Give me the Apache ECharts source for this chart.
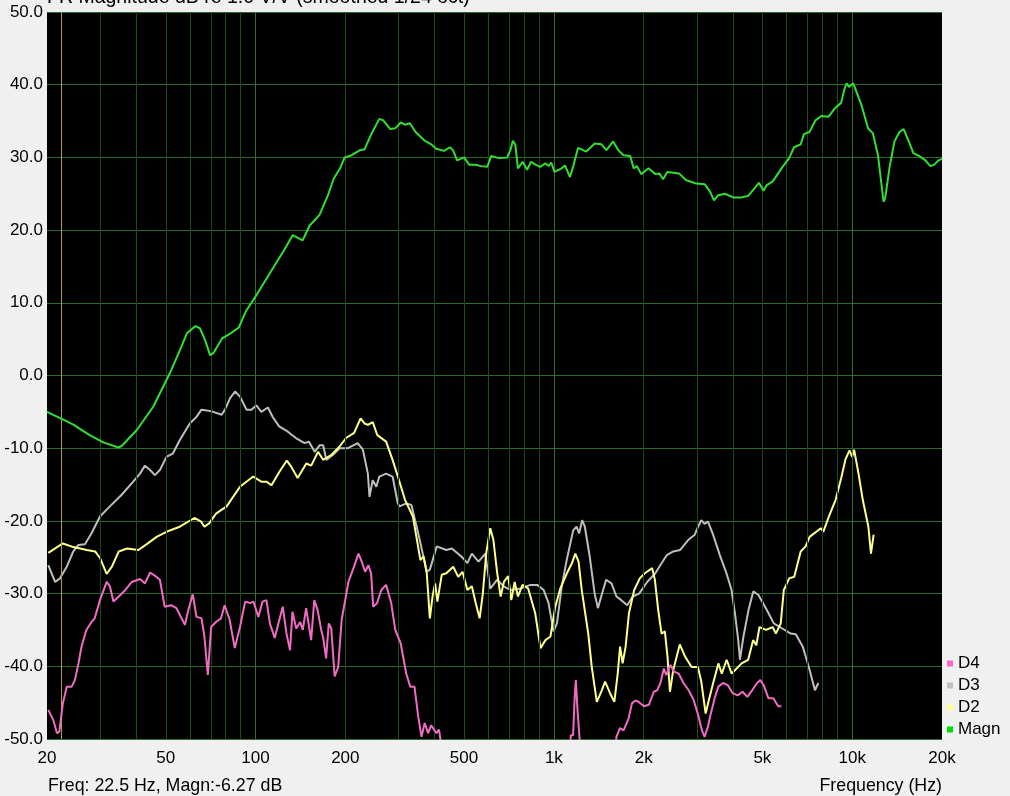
<!DOCTYPE html>
<html><head><meta charset="utf-8">
<script src="https://cdn.jsdelivr.net/npm/echarts@6/dist/echarts.min.js"></script>
<style>html,body{margin:0;padding:0;background:#f0f0f0;} #c{width:1010px;height:796px;}</style>
</head><body><div id="c"></div>
<script>
const magn = [[20,-5.0],[22.5,-6.0],[24.6,-6.8],[27.8,-8.2],[30.9,-9.2],[34.7,-9.9],[35.6,-9.7],[40,-7.5],[45.4,-4.3],[51.6,0.3],[55.8,3.5],[58.9,5.8],[62.9,6.8],[65.1,6.5],[67.7,4.9],[70.4,2.8],[72.3,3.1],[77.2,5.1],[82.5,5.8],[87.9,6.6],[92.7,8.8],[101.6,11.3],[112.6,14.3],[124.9,17.3],[133.2,19.3],[143.9,18.6],[151.7,20.6],[163.9,22.1],[174.9,24.8],[182.9,27.1],[192,28.5],[199,30.0],[210,30.3],[224,31.0],[232,31.1],[245,33.3],[260,35.3],[268,35.1],[283,33.9],[294,34.0],[307,34.8],[317,34.5],[329,34.7],[344,33.5],[369,32.3],[388,31.8],[403,31.2],[429,30.9],[448,31.4],[459,31.0],[474,29.6],[500,30.0],[520,29.0],[547,29.0],[569,28.8],[598,28.7],[617,30.2],[654,29.9],[697,30.0],[715,31.0],[729,32.3],[743,31.7],[758,28.5],[786,29.4],[813,28.3],[839,29.4],[867,29.0],[901,28.7],[936,29.2],[960,28.8],[980,29.3],[1005,28.0],[1062,28.5],[1090,28.9],[1132,27.3],[1160,28.7],[1205,31.3],[1284,30.8],[1371,31.9],[1443,31.8],[1500,31.0],[1580,32.2],[1644,31.0],[1711,30.3],[1803,30.2],[1851,28.5],[1899,28.8],[1963,27.7],[2076,28.5],[2188,27.7],[2258,27.8],[2324,27.0],[2399,28.0],[2627,27.8],[2771,26.9],[3000,26.4],[3207,26.3],[3338,25.3],[3442,24.1],[3558,24.8],[3745,25.0],[3992,24.5],[4256,24.5],[4478,24.7],[4652,25.5],[4869,26.5],[5046,25.4],[5174,26.2],[5416,26.7],[5843,28.7],[6147,29.9],[6386,31.4],[6720,31.8],[6890,33.2],[7194,33.5],[7530,35.1],[7882,35.7],[8337,35.6],[8770,36.8],[9177,37.5],[9410,39.3],[9580,40.2],[9760,39.7],[10080,40.2],[10340,39.0],[10740,37.2],[11300,34.0],[11740,33.3],[12200,30.3],[12450,27.3],[12740,23.9],[12900,24.4],[13350,28.7],[13860,32.2],[14400,33.5],[14880,33.9],[15330,32.6],[16040,30.6],[16740,30.2],[17600,29.6],[18280,28.8],[18840,29.0],[19480,29.6],[20000,29.8]];

const d3 = [[20.2,-26.1],[21.3,-28.4],[22.1,-27.9],[23.3,-26.3],[24.5,-24.2],[25.5,-23.3],[26.8,-23.2],[28.2,-21.7],[30.1,-19.4],[32.5,-18.0],[35.6,-16.4],[38.9,-14.6],[41,-13.5],[42.6,-12.4],[44.3,-13.0],[46,-13.7],[47.8,-13.0],[50.3,-11.2],[52.9,-10.7],[55.7,-8.9],[60.2,-6.6],[63.4,-5.7],[65.9,-4.7],[68.5,-4.8],[72.1,-5.0],[77,-5.4],[79,-4.7],[82.2,-3.1],[85.4,-2.2],[88.7,-2.9],[93.3,-4.7],[97,-4.7],[100.6,-4.1],[104.6,-5.0],[110,-4.4],[114.2,-5.7],[120,-7.0],[128,-7.7],[136.6,-8.6],[146,-9.3],[151,-9.1],[157.9,-10.5],[164,-9.6],[168.5,-9.6],[172.8,-11.6],[182,-10.9],[191.3,-10.0],[204,-10.0],[220,-9.3],[229,-10.2],[238,-13.5],[241,-16.7],[247,-14.4],[254,-15.3],[260,-13.9],[274,-13.5],[288,-13.9],[300,-17.6],[304,-18.0],[320,-17.6],[333,-17.8],[351,-21.7],[375,-27.0],[384,-26.7],[405,-23.5],[436,-24.0],[455,-23.8],[490,-24.9],[513,-25.8],[531,-24.5],[559,-25.6],[589,-24.5],[612,-29.3],[645,-28.1],[679,-29.0],[715,-29.5],[773,-29.3],[835,-28.8],[879,-28.8],[924,-29.5],[960,-31.3],[997,-35.2],[1024,-34.1],[1063,-29.0],[1104,-25.4],[1161,-21.3],[1191,-20.8],[1216,-21.7],[1244,-19.9],[1270,-20.8],[1319,-24.9],[1370,-30.0],[1405,-32.0],[1441,-30.4],[1497,-28.1],[1560,-28.6],[1621,-30.4],[1683,-30.9],[1762,-31.6],[1838,-30.4],[1931,-30.0],[2055,-28.4],[2188,-27.2],[2274,-26.1],[2392,-24.7],[2513,-24.2],[2651,-24.0],[2824,-22.6],[2967,-21.9],[3044,-20.8],[3120,-19.9],[3200,-20.4],[3285,-20.1],[3418,-21.9],[3600,-24.7],[3790,-27.2],[3940,-29.5],[4045,-32.7],[4150,-36.4],[4205,-39.1],[4320,-35.9],[4490,-32.3],[4660,-29.7],[4850,-30.2],[5180,-32.3],[5460,-34.1],[5830,-34.8],[6220,-35.5],[6470,-35.6],[6830,-37.3],[7200,-40.5],[7500,-43.3],[7700,-42.3]];

const d2 = [[20.2,-24.4],[22.6,-23.1],[24.5,-23.6],[27.2,-24.0],[29,-24.2],[30.1,-25.1],[31.7,-27.3],[33,-26.3],[34.8,-24.2],[37.1,-23.8],[40.5,-24.0],[43.2,-23.2],[46.6,-22.2],[50.3,-21.5],[55.7,-20.8],[62.4,-19.6],[65.7,-20.1],[67.4,-20.8],[70,-20.3],[73.7,-19.0],[80,-18.0],[88.7,-15.3],[98.2,-13.9],[104.6,-14.6],[108.8,-14.6],[113.1,-15.1],[120.4,-13.2],[127.3,-11.7],[131.5,-12.5],[138.4,-14.1],[148,-12.1],[153.7,-12.4],[162,-10.5],[168.5,-11.6],[179.7,-10.9],[191,-9.8],[201,-8.6],[214,-7.9],[225,-5.9],[232,-6.6],[238,-6.8],[247,-6.4],[256,-8.2],[274,-9.1],[288,-11.6],[300,-13.9],[317,-17.1],[337,-19.4],[357,-25.4],[366,-24.9],[375,-27.2],[384,-33.4],[392,-30.4],[400,-28.6],[407,-31.1],[421,-27.4],[436,-27.2],[460,-26.3],[478,-27.7],[494,-27.0],[513,-29.5],[531,-29.0],[547,-31.3],[564,-33.4],[578,-30.0],[593,-24.5],[612,-21.0],[627,-22.6],[645,-27.0],[663,-30.4],[680,-28.4],[703,-27.6],[720,-30.9],[739,-28.4],[758,-30.4],[785,-28.8],[820,-29.3],[866,-32.7],[902,-37.5],[937,-36.4],[974,-35.9],[1011,-31.8],[1051,-29.3],[1106,-27.2],[1150,-25.8],[1180,-24.5],[1210,-25.6],[1240,-29.5],[1304,-35.5],[1340,-40.1],[1393,-44.9],[1448,-43.3],[1485,-42.1],[1543,-43.7],[1595,-44.9],[1637,-41.0],[1667,-37.3],[1700,-39.6],[1740,-37.3],[1785,-32.7],[1859,-29.5],[1941,-27.9],[2018,-27.2],[2136,-26.5],[2181,-28.1],[2238,-32.3],[2296,-35.5],[2356,-35.2],[2404,-38.7],[2450,-43.5],[2513,-40.5],[2643,-37.0],[2757,-38.7],[2895,-40.1],[3040,-40.1],[3120,-42.1],[3227,-46.5],[3310,-44.6],[3420,-42.3],[3560,-39.6],[3655,-41.0],[3795,-39.1],[3945,-41.0],[4100,-40.3],[4260,-39.6],[4480,-39.1],[4655,-36.4],[4770,-37.1],[4890,-34.6],[5145,-35.0],[5410,-34.6],[5550,-35.5],[5760,-34.1],[5900,-29.5],[6150,-27.9],[6390,-27.7],[6720,-24.2],[6980,-23.5],[7200,-22.2],[7850,-21.0],[8000,-21.5],[8350,-19.4],[8800,-17.1],[9200,-14.0],[9500,-11.5],[9800,-10.3],[10000,-11.2],[10150,-10.2],[10500,-13.5],[10850,-17.1],[11330,-20.8],[11560,-24.5],[11800,-21.9]];

const d4 = [[20.2,-46.0],[21,-47.4],[21.6,-49.2],[22,-49.0],[22.6,-45.1],[23.3,-42.8],[24.2,-42.8],[24.8,-41.9],[25.5,-39.6],[26.1,-37.3],[27.1,-35.0],[28.2,-33.9],[28.9,-33.4],[30.1,-30.9],[31.7,-28.4],[32.5,-29.0],[33.4,-31.1],[34.8,-30.4],[36.6,-29.5],[38.5,-28.4],[41,-28.0],[42.6,-28.6],[44.3,-27.1],[46.6,-27.7],[47.8,-28.1],[49.6,-31.8],[52.2,-31.6],[54.3,-32.0],[56.5,-33.4],[58,-34.3],[59.5,-32.3],[61.6,-30.1],[63.4,-33.2],[65.9,-33.4],[67.4,-35.9],[69.2,-41.2],[71,-34.6],[73.7,-33.9],[76.6,-33.4],[78.8,-31.6],[81.9,-33.6],[85.2,-37.5],[88.7,-34.6],[92.3,-31.1],[95.9,-31.3],[98.4,-31.1],[102.2,-33.2],[105.6,-31.1],[108.8,-30.9],[111.7,-34.1],[116,-36.1],[119.3,-34.1],[123.4,-31.8],[127,-35.5],[130.5,-37.8],[133,-32.5],[136.9,-34.8],[141.2,-33.9],[144,-35.0],[147.8,-32.0],[153.6,-36.4],[157.4,-30.9],[161.6,-32.3],[166,-35.0],[168.6,-36.1],[172.4,-38.9],[176,-34.1],[179.4,-34.8],[184.2,-41.4],[189.3,-40.1],[194.4,-33.6],[199.4,-31.1],[204.8,-28.4],[213,-26.5],[221.3,-24.5],[227,-25.6],[233,-27.0],[239,-26.1],[244,-27.2],[248,-31.8],[255.5,-31.3],[264,-29.5],[274,-28.8],[285,-31.3],[294,-35.0],[306.4,-36.8],[320,-41.0],[330,-42.8],[341,-42.8],[351,-46.9],[360,-49.7],[369,-47.8],[379,-49.2],[388,-48.1],[404,-49.2],[412,-48.7],[420,-51],[425,-53],[425,null],
[1125,-53],[1140,-49.5],[1160,-49.5],[1175,-44],[1185,-41.9],[1200,-46],[1220,-50],[1240,-53],[1240,null],
[1600,-53],[1621,-49.7],[1665,-48.5],[1712,-48.8],[1780,-47.2],[1827,-45.1],[1877,-44.7],[1926,-44.9],[2004,-45.5],[2082,-45.3],[2163,-43.5],[2219,-43.3],[2277,-42.3],[2337,-40.3],[2379,-41.2],[2460,-39.8],[2520,-40.7],[2620,-41.0],[2720,-42.3],[2830,-43.3],[2940,-44.6],[3055,-46.9],[3135,-48.8],[3200,-49.7],[3285,-48.3],[3340,-46.9],[3470,-44.2],[3560,-42.8],[3690,-42.3],[3830,-42.6],[3975,-43.7],[4130,-44.0],[4290,-43.5],[4450,-44.2],[4620,-43.3],[4800,-42.3],[4920,-41.9],[5050,-42.6],[5240,-44.4],[5440,-44.4],[5650,-45.5],[5790,-45.5]];

const gridFreqs = [30,40,50,60,70,80,90,100,200,300,400,500,600,700,800,900,1000,2000,3000,4000,5000,6000,7000,8000,9000,10000];
const majorFreqs = [100,1000,10000];
const tickFreqs = [20,50,100,200,500,1000,2000,5000,10000,20000];
const tickLabels = ['20','50','100','200','500','1k','2k','5k','10k','20k'];
const cursorFreq = 22.5;
const titleText = 'FR Magnitude dB re 1.0 V/V (smoothed 1/24 oct)';
const cursorText = 'Freq: 22.5 Hz, Magn:-6.27 dB';
const xAxisName = 'Frequency (Hz)';

const lg = Math.log10;
const toXY = arr => arr.map(p => [lg(p[0]), p[1] === null ? '-' : p[1]]);
const FONT = '"Liberation Sans", Arial, sans-serif';

const gridLines = gridFreqs.map(f => ({
  xAxis: lg(f),
  lineStyle: {color: majorFreqs.includes(f) ? '#2e712e' : '#1c481c', width: 1, type: 'solid'}
}));
gridLines.push({xAxis: lg(cursorFreq), lineStyle: {color: '#b0a040', width: 1, type: 'solid'}});

const chart = echarts.init(document.getElementById('c'), null, {renderer: 'canvas'});
chart.setOption({
  animation: false,
  backgroundColor: '#f0f0f0',
  grid: {left: 47, top: 12, width: 895, height: 727, show: true, backgroundColor: '#000', borderWidth: 0, containLabel: false},
  xAxis: {
    type: 'value', min: lg(20), max: lg(20000),
    axisLine: {show: false}, axisTick: {show: false}, splitLine: {show: false},
    axisLabel: {
      customValues: tickFreqs.map(lg),
      margin: 11, fontSize: 17, color: '#000', fontFamily: FONT,
      formatter: v => { const i = tickFreqs.findIndex(f => Math.abs(lg(f) - v) < 1e-6); return i >= 0 ? tickLabels[i] : ''; }
    }
  },
  yAxis: {
    type: 'value', min: -50, max: 50, interval: 10,
    axisLine: {show: false}, axisTick: {show: false},
    splitLine: {show: true, lineStyle: {color: '#2b6a2b', width: 1}},
    axisLabel: {margin: 4, fontSize: 17, color: '#000', fontFamily: FONT, formatter: v => v.toFixed(1)}
  },
  legend: {
    orient: 'vertical', left: 947, top: 655, padding: 0, itemWidth: 6, itemHeight: 6, itemGap: 5,
    icon: 'rect', textStyle: {fontSize: 17, color: '#000', fontFamily: FONT},
    data: ['D4', 'D3', 'D2', 'Magn']
  },
  graphic: [
    {type: 'text', left: 47, top: -12, style: {text: titleText, font: '19.5px ' + FONT, fill: '#000'}},
    {type: 'text', left: 48, top: 777, style: {text: cursorText, font: '17.8px ' + FONT, fill: '#000'}},
    {type: 'text', right: 68, top: 777, style: {text: xAxisName, font: '17.8px ' + FONT, fill: '#000'}}
  ],
  series: [
    {type: 'line', data: [[lg(20), -200]], symbol: 'none', lineStyle: {opacity: 0}, silent: true, z: 1,
     markLine: {silent: true, symbol: ['none', 'none'], label: {show: false}, animation: false, data: gridLines}},
    {name: 'D3', type: 'line', data: toXY(d3), symbol: 'none', z: 3, lineStyle: {color: '#bebebe', width: 2}, itemStyle: {color: '#c0c0c0'}},
    {name: 'D2', type: 'line', data: toXY(d2), symbol: 'none', z: 4, lineStyle: {color: '#ffff8c', width: 2}, itemStyle: {color: '#ffff99'}},
    {name: 'D4', type: 'line', data: toXY(d4), symbol: 'none', z: 5, lineStyle: {color: '#f06cc4', width: 2}, itemStyle: {color: '#ff66cc'}},
    {name: 'Magn', type: 'line', data: toXY(magn), symbol: 'none', z: 6, lineStyle: {color: '#33de33', width: 2}, itemStyle: {color: '#00e000'}}
  ]
});
</script></body></html>
